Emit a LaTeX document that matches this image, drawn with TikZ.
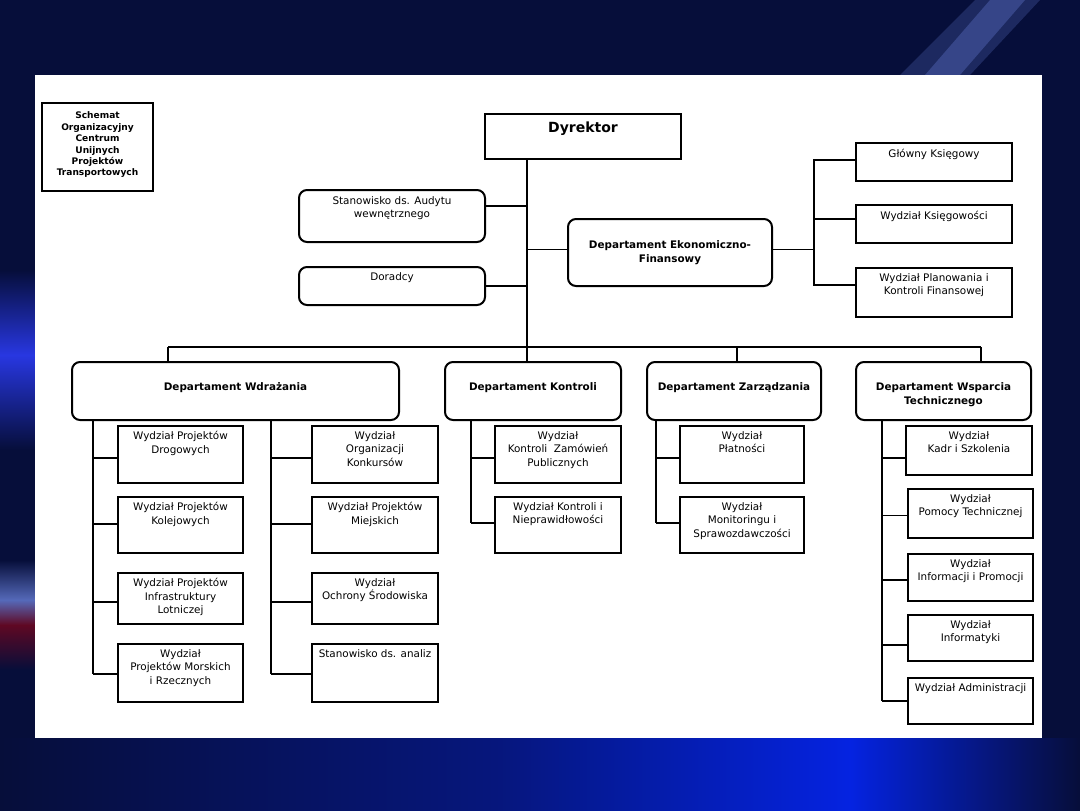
\documentclass[tikz,border=0pt]{standalone}
\usepackage{fontspec}
\setmainfont{DejaVu Sans}
\usetikzlibrary{calc}
\definecolor{navy}{RGB}{6,14,58}
\definecolor{bgblue}{RGB}{40,55,225}
\definecolor{bgbright}{RGB}{5,35,225}
\definecolor{bgred}{RGB}{95,8,35}
\definecolor{bgpale}{RGB}{85,105,185}
\tikzset{
  x=0.75pt, y=-0.75pt,
  rbox/.style={draw, line width=1.2pt, rectangle, inner sep=0pt, outer sep=0pt},
  rrbox/.style={draw, line width=1.5pt, rounded corners=6pt, rectangle, inner sep=0pt, outer sep=0pt},
  tbox/.style={draw, line width=0.8pt, rectangle, inner sep=0pt, outer sep=0pt},
  txt/.style={inner sep=0pt, align=center, font=\fontsize{7.8pt}{10.1pt}\selectfont},
  btxt/.style={inner sep=0pt, align=center, font=\fontsize{7.8pt}{10.5pt}\selectfont\bfseries},
  ttxt/.style={inner sep=0pt, align=center, font=\fontsize{6.8pt}{8.55pt}\selectfont\bfseries},
  dtxt/.style={inner sep=0pt, align=center, font=\fontsize{10.5pt}{12pt}\selectfont\bfseries},
  conn/.style={line width=1.1pt},
}
% style, name, x1, y1, x2, y2
\newcommand\mkbox[6]{%
  \pgfmathsetmacro\bw{(#5-#3)*0.75}%
  \pgfmathsetmacro\bh{(#6-#4)*0.75}%
  \node[#1, minimum width=\bw pt, minimum height=\bh pt] (#2) at ({(#3+#5)/2},{(#4+#6)/2}) {};}
% name of box, gap, text
\newcommand\toptext[3]{\node[txt, anchor=north] (#1t) at ($(#1.north)+(0,#2)$) {#3};}
% child, y offset, length to spine
\newcommand\branch[3]{\draw[conn] ($(#1.west)+(0,#2)$) -- ++(-#3,0);}
\begin{document}
\begin{tikzpicture}
\useasboundingbox (0,0) rectangle (1080,810);
% background
\fill[navy] (0,0) rectangle (1080,810);
\shade[top color=navy, bottom color=bgblue] (0,270) rectangle (35,355);
\shade[top color=bgblue, bottom color=navy] (0,355) rectangle (35,450);
\shade[top color=navy, bottom color=bgpale] (0,560) rectangle (35,600);
\shade[top color=bgpale, bottom color=bgred] (0,600) rectangle (35,625);
\shade[top color=bgred, bottom color=navy] (0,625) rectangle (35,670);
\shade[left color=navy, right color=navy!60!bgbright] (0,738) rectangle (500,810);
\shade[left color=navy!60!bgbright, right color=bgbright] (500,738) rectangle (850,810);
\shade[left color=bgbright, right color=navy] (850,738) rectangle (1080,810);
\fill[bgpale, opacity=0.3] (975,0) -- (1040,0) -- (970,75) -- (900,75) -- cycle;
\fill[bgpale, opacity=0.45] (990,0) -- (1025,0) -- (960,75) -- (925,75) -- cycle;
\fill[white] (35,75) rectangle (1042,738);

% title
\mkbox{tbox}{title}{42}{103}{153}{191}
\node[ttxt] (titlet) at ($(title.center)+(0,-2)$) {Schemat\\Organizacyjny\\Centrum\\Unijnych\\Projektów\\Transportowych};

% director
\mkbox{rbox}{dyr}{485}{114}{681}{159}
\node[dtxt, anchor=north] (dyrt) at ($(dyr.north)+(0,7.5)$) {Dyrektor};

% staff
\mkbox{rrbox}{aud}{299}{190}{485}{242}
\toptext{aud}{6}{Stanowisko ds. Audytu\\wewnętrznego}
\mkbox{rrbox}{dor}{299}{267}{485}{305}
\toptext{dor}{5.5}{Doradcy}
\mkbox{rrbox}{eko}{568}{219}{772}{286}
\node[btxt] (ekot) at (eko.center) {Departament Ekonomiczno-\\Finansowy};
\mkbox{rbox}{glo}{856}{143}{1012}{181}
\toptext{glo}{6}{Główny Księgowy}
\mkbox{rbox}{ksi}{856}{205}{1012}{243}
\toptext{ksi}{6}{Wydział Księgowości}
\mkbox{rbox}{pla}{856}{268}{1012}{317}
\toptext{pla}{5}{Wydział Planowania i\\Kontroli Finansowej}

% departments
\mkbox{rrbox}{wdr}{72}{362}{399}{420}
\node[btxt] (wdrt) at ($(wdr.center)+(0,-3)$) {Departament Wdrażania};
\mkbox{rrbox}{kon}{445}{362}{621}{420}
\node[btxt] (kont) at ($(kon.center)+(0,-3)$) {Departament Kontroli};
\mkbox{rrbox}{zar}{647}{362}{821}{420}
\node[btxt] (zart) at ($(zar.center)+(0,-3)$) {Departament Zarządzania};
\mkbox{rrbox}{wsp}{856}{362}{1031}{420}
\node[btxt] (wspt) at ($(wsp.center)+(0,4)$) {Departament Wsparcia\\Technicznego};

% Wdrazania left
\mkbox{rbox}{wl1}{118}{426}{243}{483}
\toptext{wl1}{5}{Wydział Projektów\\Drogowych}
\mkbox{rbox}{wl2}{118}{497}{243}{553}
\toptext{wl2}{5}{Wydział Projektów\\Kolejowych}
\mkbox{rbox}{wl3}{118}{573}{243}{624}
\toptext{wl3}{5}{Wydział Projektów\\Infrastruktury\\Lotniczej}
\mkbox{rbox}{wl4}{118}{644}{243}{702}
\toptext{wl4}{5}{Wydział\\Projektów Morskich\\i Rzecznych}
% Wdrazania right
\mkbox{rbox}{wr1}{312}{426}{438}{483}
\toptext{wr1}{5}{Wydział\\Organizacji\\Konkursów}
\mkbox{rbox}{wr2}{312}{497}{438}{553}
\toptext{wr2}{5}{Wydział Projektów\\Miejskich}
\mkbox{rbox}{wr3}{312}{573}{438}{624}
\toptext{wr3}{5}{Wydział\\Ochrony Środowiska}
\mkbox{rbox}{wr4}{312}{644}{438}{702}
\toptext{wr4}{5}{Stanowisko ds. analiz}
% Kontroli
\mkbox{rbox}{k1}{495}{426}{621}{483}
\toptext{k1}{5}{Wydział\\Kontroli\ \ Zamówień\\Publicznych}
\mkbox{rbox}{k2}{495}{497}{621}{553}
\toptext{k2}{5}{Wydział Kontroli i\\Nieprawidłowości}
% Zarzadzania
\mkbox{rbox}{z1}{680}{426}{804}{483}
\toptext{z1}{5}{Wydział\\Płatności}
\mkbox{rbox}{z2}{680}{497}{804}{553}
\toptext{z2}{5}{Wydział\\Monitoringu i\\Sprawozdawczości}
% Wsparcia
\mkbox{rbox}{s1}{906}{426}{1032}{475}
\toptext{s1}{5}{Wydział\\Kadr i Szkolenia}
\mkbox{rbox}{s2}{908}{489}{1033}{538}
\toptext{s2}{5}{Wydział\\Pomocy Technicznej}
\mkbox{rbox}{s3}{908}{554}{1033}{601}
\toptext{s3}{5}{Wydział\\Informacji i Promocji}
\mkbox{rbox}{s4}{908}{615}{1033}{661}
\toptext{s4}{5}{Wydział\\Informatyki}
\mkbox{rbox}{s5}{908}{678}{1033}{724}
\toptext{s5}{5}{Wydział Administracji}

% main spine
\coordinate (sp) at ($(dyr.south west)+(42,0)$);
\draw[conn] (sp) -- (sp |- kon.north);
\coordinate (jAud) at ($(sp)+(0,47)$);
\draw[conn] (aud.east |- jAud) -- (jAud);
\draw[conn] (dor.east) -- (sp |- dor.east);
\draw[conn] ($(eko.west)+(0,-3)$) -- (sp |- {$(eko.west)+(0,-3)$});
% right spine
\coordinate (rsTop) at (814,160);
\coordinate (rsBot) at (814,285);
\draw[conn] (eko.east |- {$(eko.west)+(0,-3)$}) -- (rsTop |- {$(eko.west)+(0,-3)$});
\draw[conn] (glo.west |- rsTop) -- (rsTop) -- (rsBot) -- (pla.west |- rsBot);
\draw[conn] ($(ksi.west)+(0,-5)$) -- ($(rsTop |- ksi.west)+(0,-5)$);
% bus
\coordinate (dW) at (168,347);
\coordinate (dZ) at (737,347);
\coordinate (dS) at (981,347);
\draw[conn] (dW) -- (dS);
\draw[conn] (dW) -- (dW |- wdr.north);
\draw[conn] (dZ) -- (dZ |- zar.north);
\draw[conn] (dS) -- (dS |- wsp.north);
% Wdrazania spines
\draw[conn] ($(wdr.south west)+(21,0)$) -- ++(0,254);
\draw[conn] ($(wdr.south west)+(199,0)$) -- ++(0,254);
\branch{wl1}{3.5}{25}
\branch{wl2}{-1}{25}
\branch{wl3}{3.5}{25}
\branch{wl4}{1}{25}
\branch{wr1}{3.5}{41}
\branch{wr2}{-1}{41}
\branch{wr3}{3.5}{41}
\branch{wr4}{1}{41}
% Kontroli
\draw[conn] ($(kon.south west)+(26,0)$) -- ++(0,103);
\branch{k1}{3.5}{24}
\branch{k2}{-2}{24}
% Zarzadzania
\draw[conn] ($(zar.south west)+(9,0)$) -- ++(0,103);
\branch{z1}{3.5}{24}
\branch{z2}{-2}{24}
% Wsparcia
\draw[conn] ($(wsp.south west)+(26,0)$) -- ++(0,281);
\branch{s1}{7.5}{24}
\branch{s2}{2}{26}
\branch{s3}{2.5}{26}
\branch{s4}{7}{26}
\branch{s5}{0}{26}
\end{tikzpicture}
\end{document}
